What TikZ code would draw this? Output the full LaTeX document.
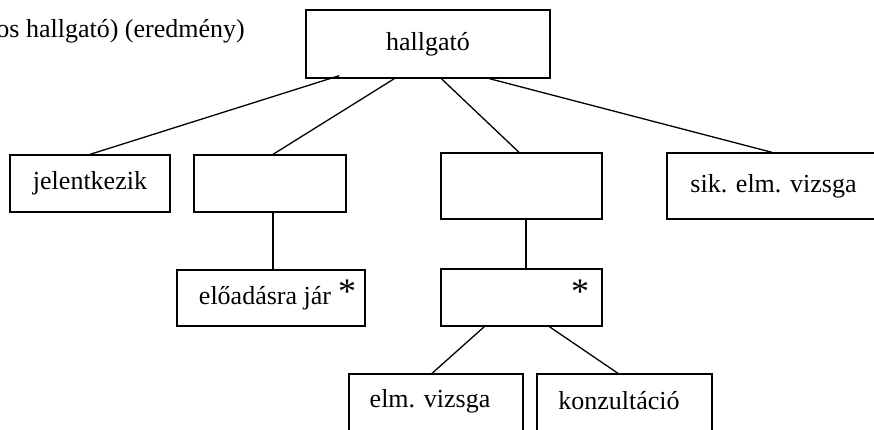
\documentclass[tikz,border=0pt]{standalone}
\usepackage{fontspec}
\setmainfont{Liberation Serif}
\newcommand{\fs}{\fontsize{26}{30}\selectfont}
\newcommand{\fstar}{\fontsize{36}{36}\selectfont}
\begin{document}
\begin{tikzpicture}[x=1pt,y=-1pt,
  box/.style={draw, line width=1.3pt, rectangle, inner sep=0pt, font=\fs},
  conn/.style={line width=1.3pt},
  txt/.style={inner sep=0pt, font=\fs},
  starmark/.style={inner sep=0pt, font=\fstar}]
\useasboundingbox (0,0) rectangle (874,430);
\clip (0,0) rectangle (874,430);
\fill[white] (0,0) rectangle (874,430);
% top-left text
\node[txt, anchor=base east] (toptext) at (245,38) {os hallgató) (eredmény)};
% boxes
\node[box, minimum width=244pt, minimum height=68pt] (h) at (428,44) {hallgató};
\node[box, minimum width=160pt, minimum height=57pt] (jel) at (90,183.5) {jelentkezik};
\node[box, minimum width=152pt, minimum height=57pt] (b2) at (270,183.5) {};
\node[box, minimum width=161pt, minimum height=66pt] (b3) at (521.5,186) {};
\node[box, minimum width=213pt, minimum height=66pt] (sik) at (773.5,186) {sik. elm. vizsga};
\node[box, minimum width=188pt, minimum height=56pt] (elo) at (271,298) {};
\node[txt] (elotext) at (265,298) {előadásra jár};
\node[starmark] (elostar) at (347,292) {*};
\node[box, minimum width=161pt, minimum height=57pt] (sb) at (521.5,297.5) {};
\node[starmark] (sbstar) at (580,292) {*};
\node[box, minimum width=174pt, minimum height=70pt] (ev) at (436,409) {};
\node[txt] (evtext) at (430,401) {elm. vizsga};
\node[box, minimum width=175pt, minimum height=70pt] (kz) at (624.5,409) {};
\node[txt] (kztext) at (619,401) {konzultáció};
% connectors
\draw[conn] ([xshift=34pt,yshift=3pt]h.south west) -- (jel.north);
\draw[conn] ([xshift=89pt]h.south west) -- ([xshift=3pt]b2.north);
\draw[conn] ([xshift=136pt]h.south west) -- ([xshift=-2.5pt]b3.north);
\draw[conn] ([xshift=184pt]h.south west) -- ([xshift=-1.5pt]sik.north);
\draw[conn] ([xshift=3pt]b2.south) -- ([xshift=3pt]b2.south |- elo.north);
\draw[conn] ([xshift=4.5pt]b3.south) -- ([xshift=4.5pt]b3.south |- sb.north);
\draw[conn] ([xshift=44pt]sb.south west) -- ([xshift=-4pt]ev.north);
\draw[conn] ([xshift=109pt]sb.south west) -- ([xshift=-6.5pt]kz.north);
\end{tikzpicture}
\end{document}
